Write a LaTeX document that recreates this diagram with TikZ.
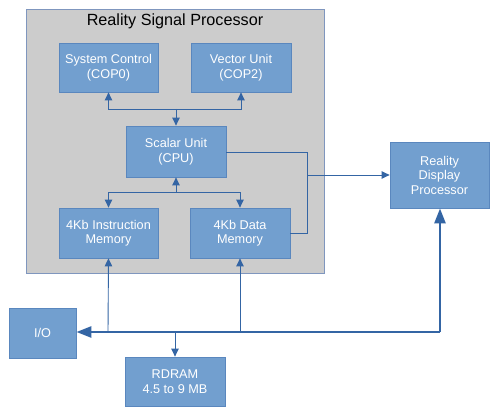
\documentclass[tikz,border=0pt]{standalone}
\usepackage{fontspec}
\setmainfont{Liberation Sans}
\usetikzlibrary{arrows.meta,calc}
\definecolor{boxfill}{HTML}{729FCF}
\definecolor{boxline}{HTML}{5A87BE}
\definecolor{wire}{HTML}{3465A4}
\definecolor{panel}{HTML}{CCCCCC}
\definecolor{panelline}{HTML}{7F96BE}
\begin{document}
\begin{tikzpicture}[x=1pt,y=-1pt,
  unit/.style={draw=boxline,fill=boxfill,text=white,line width=0.8pt,font=\fontsize{12.7}{14.5}\selectfont,align=center,inner sep=0pt},
  thin/.style={draw=wire,line width=0.9pt},
  tip/.style={-{Triangle[length=8pt,width=7.5pt]}},
  bus/.style={draw=wire,line width=2.6pt},
  bustip/.style={-{Triangle[length=15pt,width=11pt]}}]
\useasboundingbox (0,0) rectangle (499,414);
\fill[white] (0,0) rectangle (499,414);
\node[draw=panelline,fill=panel,line width=0.8pt,minimum width=298pt,minimum height=264pt,inner sep=0pt,anchor=north west] (rsp) at (26,9) {};
\node[font=\fontsize{16.2}{18}\selectfont] (title) at (175,21) {Reality Signal Processor};
\node[unit,minimum width=99pt,minimum height=49pt] (sc) at (108.5,67.5) {System Control\\(COP0)};
\node[unit,minimum width=100pt,minimum height=49pt] (vu) at (241,67.5) {Vector Unit\\(COP2)};
\node[unit,minimum width=100pt,minimum height=51pt] (cpu) at (176,151.5) {Scalar Unit\\(CPU)};
\node[unit,minimum width=99pt,minimum height=50pt] (im) at (108.5,233) {4Kb Instruction\\Memory};
\node[unit,minimum width=100pt,minimum height=50pt] (dm) at (240,233) {4Kb Data\\Memory};
\node[unit,minimum width=99pt,minimum height=66pt] (rdp) at (439.5,175) {Reality\\Display\\Processor};
\node[unit,minimum width=67pt,minimum height=50pt] (io) at (42.5,333) {I/O};
\node[unit,minimum width=100pt,minimum height=49pt] (ram) at (175,381.5) {RDRAM\\4.5 to 9 MB};
% junction points
\coordinate (j1) at (176,109);
\coordinate (j2) at (176,192);
\coordinate (k1) at (307,152);
\coordinate (k2) at (307,175);
\coordinate (k3) at (307,233);
\coordinate (b1) at (440,332);
\coordinate (b2) at (108,332);
\coordinate (b3) at (240,332);
\coordinate (b4) at (175,332);
% top fan
\draw[thin,tip] (j1) -| (sc.south);
\draw[thin,tip] (j1) -| (vu.south);
\draw[thin,tip] (j1) -- (cpu.north);
% bottom fan
\draw[thin,tip] (j2) -- (cpu.south);
\draw[thin,tip] (j2) -| (im.north);
\draw[thin,tip] (j2) -| (dm.north);
% cpu/data to rdp
\draw[thin] (cpu.east |- k1) -- (k1) -- (k3) -- (dm.east |- k3);
\draw[thin,tip] (k2) -- (rdp.west |- k2);
% bus
\draw[bus,bustip] (b1) -- (rdp.south -| b1);
\draw[bus,bustip] (b1) -- (io.east |- b1);
\draw[thin,tip] (b2) -- (im.south);
\draw[thin,tip] (b3) -- (dm.south);
\draw[thin,tip] (b4) -- (ram.north);
\end{tikzpicture}
\end{document}
